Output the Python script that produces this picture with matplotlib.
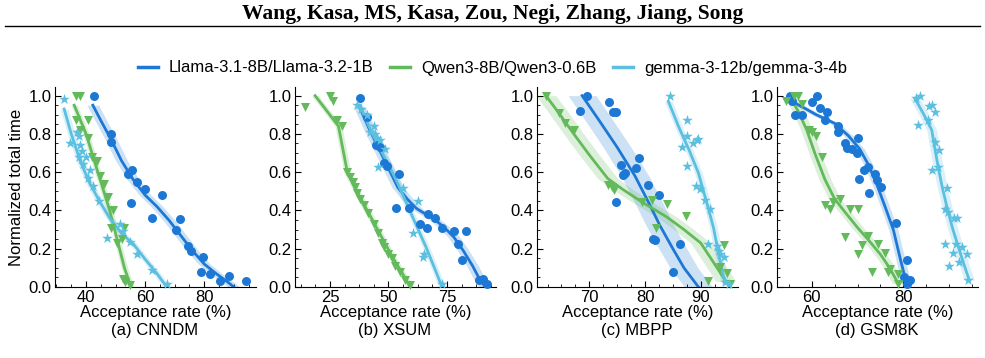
import numpy as np
import matplotlib
matplotlib.use("Agg")
import matplotlib.pyplot as plt
from matplotlib.lines import Line2D
from matplotlib.ticker import AutoMinorLocator, MultipleLocator

header = "Wang, Kasa, MS, Kasa, Zou, Negi, Zhang, Jiang, Song"
models = ["Llama-3.1-8B/Llama-3.2-1B", "Qwen3-8B/Qwen3-0.6B", "gemma-3-12b/gemma-3-4b"]
captions = ["(a) CNNDM", "(b) XSUM", "(c) MBPP", "(d) GSM8K"]
colors = ["#1c78d4", "#63ba5a", "#5bbfe0"]
markers = ["o", "v", "*"]

# ---- (a) CNNDM ----
cnndm_llama_x = [42.7, 48.5, 48.5, 54.1, 55.5, 57.2, 55.1, 59.8, 65.8, 62.3, 71.9, 70.3,
                 74.4, 75.4, 79.7, 78.8, 82.0, 88.5, 85.3, 94.2]
cnndm_llama_y = [1.0, 0.80, 0.76, 0.59, 0.61, 0.55, 0.44, 0.51, 0.48, 0.36, 0.355, 0.30,
                 0.215, 0.19, 0.155, 0.08, 0.07, 0.06, 0.03, 0.03]
cnndm_qwen_x = [36.6, 38.0, 36.6, 40.5, 40.5, 38.0, 42.0, 43.6, 44.7, 46.2, 47.4, 49.2,
                48.5, 52.8, 50.4, 52.2, 52.6, 53.3, 54.9]
cnndm_qwen_y = [1.0, 1.0, 0.875, 0.875, 0.78, 0.82, 0.68, 0.66, 0.58, 0.54, 0.47, 0.40,
                0.31, 0.31, 0.23, 0.25, 0.04, 0.026, 0.01]
cnndm_gemma_x = [32.6, 34.6, 36.8, 37.7, 37.9, 38.8, 37.7, 39.1, 40.0, 40.8, 41.4, 42.5,
                 44.3, 47.2, 51.5, 52.6, 54.9, 57.1, 62.2, 67.3]
cnndm_gemma_y = [0.98, 0.75, 0.81, 0.79, 0.74, 0.71, 0.68, 0.645, 0.68, 0.57, 0.61, 0.53,
                 0.45, 0.255, 0.33, 0.29, 0.235, 0.175, 0.09, 0.014]
cnndm_llama_fit_x = [42.3, 45, 48.5, 52, 56, 60, 64, 68, 72, 76, 80, 84, 88, 90]
cnndm_llama_fit_y = [0.95, 0.87, 0.77, 0.66, 0.56, 0.48, 0.42, 0.35, 0.27, 0.19, 0.12, 0.07, 0.025, 0.0]
cnndm_qwen_fit_x = [36, 40, 44, 48, 51, 53, 55.2]
cnndm_qwen_fit_y = [0.95, 0.80, 0.60, 0.40, 0.22, 0.10, 0.0]
cnndm_gemma_fit_x = [32.6, 35, 38, 41, 44.5, 48, 52, 56, 60, 64, 67.3]
cnndm_gemma_fit_y = [0.93, 0.80, 0.66, 0.55, 0.45, 0.36, 0.28, 0.225, 0.145, 0.07, 0.0]
cnndm_band = [2.0, 1.1, 1.3]

# ---- (b) XSUM ----
xsum_llama_x = [37.9, 40.7, 44.7, 46.4, 48.1, 49.3, 54.4, 53.1, 58.6, 63.6, 66.4, 66.7,
                70.0, 72.7, 77.9, 83.3, 79.6, 81.4, 88.6, 90.3, 92.1]
xsum_llama_y = [0.99, 0.89, 0.74, 0.73, 0.65, 0.63, 0.59, 0.415, 0.415, 0.33, 0.31, 0.38,
                0.36, 0.31, 0.29, 0.29, 0.227, 0.14, 0.035, 0.044, 0.014]
xsum_qwen_x = [14.3, 25.0, 26.1, 27.9, 30.1, 32.4, 33.6, 34.7, 35.7, 36.7, 37.9, 39.6,
               41.4, 43.6, 45.4, 47.1, 47.9, 50.0, 51.4, 52.9, 55.0, 57.1, 59.3]
xsum_qwen_y = [0.94, 1.0, 0.97, 0.875, 0.84, 0.60, 0.575, 0.55, 0.52, 0.49, 0.46, 0.43,
               0.385, 0.33, 0.28, 0.23, 0.21, 0.175, 0.15, 0.11, 0.08, 0.035, 0.01]
xsum_gemma_x = [36.7, 38.1, 40.7, 41.9, 43.6, 44.3, 45.0, 46.4, 48.7, 45.7, 56.4, 62.6,
                60.3, 65.0, 64.7, 72.9]
xsum_gemma_y = [0.95, 0.93, 0.90, 0.81, 0.84, 0.80, 0.78, 0.77, 0.72, 0.625, 0.515, 0.45,
                0.28, 0.175, 0.155, 0.014]
xsum_llama_fit_x = [37.6, 42, 46, 50, 54, 58, 62, 66, 70, 74, 78, 82, 86, 89, 91.4]
xsum_llama_fit_y = [0.94, 0.82, 0.72, 0.62, 0.52, 0.46, 0.41, 0.38, 0.35, 0.31, 0.26, 0.19, 0.11, 0.04, 0.0]
xsum_qwen_fit_x = [18.6, 23, 28.6, 30.5, 32.4, 36, 40, 44, 48, 52, 56, 59.3]
xsum_qwen_fit_y = [1.0, 0.93, 0.84, 0.72, 0.60, 0.51, 0.42, 0.33, 0.24, 0.15, 0.07, 0.0]
xsum_gemma_fit_x = [37.6, 42, 46, 50, 54, 58, 62, 66, 70, 72.9]
xsum_gemma_fit_y = [0.95, 0.83, 0.73, 0.64, 0.54, 0.43, 0.32, 0.21, 0.09, 0.0]
xsum_band = [2.5, 1.5, 1.5]

# ---- (c) MBPP ----
mbpp_llama_x = [69.6, 68.3, 73.6, 74.2, 74.7, 75.7, 76.1, 76.4, 74.8, 78.4, 78.9, 80.6,
                82.5, 81.5, 81.8, 86.3, 85.0]
mbpp_llama_y = [1.0, 0.92, 0.965, 0.915, 0.915, 0.64, 0.585, 0.595, 0.445, 0.62, 0.675,
                0.535, 0.48, 0.25, 0.245, 0.227, 0.08]
mbpp_qwen_x = [62.2, 64.5, 65.7, 67.2, 73.3, 74.4, 74.0, 79.4, 81.2, 83.9, 82.0, 87.3,
               94.1, 93.5, 94.8, 91.4, 95.2]
mbpp_qwen_y = [1.0, 0.91, 0.855, 0.82, 0.535, 0.505, 0.52, 0.445, 0.455, 0.435, 0.31,
               0.37, 0.22, 0.105, 0.073, 0.03, 0.017]
mbpp_gemma_x = [84.4, 87.5, 87.6, 86.6, 88.7, 89.3, 89.6, 87.5, 89.2, 89.8, 90.7, 91.6,
                91.4, 92.9, 93.2, 93.5, 94.1, 94.4, 95.0]
mbpp_gemma_y = [1.0, 0.87, 0.79, 0.73, 0.75, 0.77, 0.775, 0.63, 0.53, 0.51, 0.455, 0.41,
                0.227, 0.215, 0.19, 0.175, 0.157, 0.026, 0.014]
mbpp_llama_fit_x = [68.7, 72, 75, 78.2, 80.5, 82.7, 85, 87, 89.6]
mbpp_llama_fit_y = [1.0, 0.86, 0.73, 0.58, 0.45, 0.32, 0.20, 0.10, 0.0]
mbpp_qwen_fit_x = [62.2, 64.5, 67.2, 70, 73.3, 76, 79.4, 83.9, 87, 90, 92.5, 94.5]
mbpp_qwen_fit_y = [1.0, 0.91, 0.80, 0.69, 0.567, 0.51, 0.445, 0.366, 0.30, 0.23, 0.12, 0.03]
mbpp_gemma_fit_x = [84.2, 86, 88, 89.6, 91, 92.3, 93.3, 94.4]
mbpp_gemma_fit_y = [0.97, 0.84, 0.71, 0.595, 0.45, 0.31, 0.16, 0.017]
mbpp_band = [2.5, 1.8, 0.7]

# ---- (d) GSM8K ----
gsm8k_llama_x = [55.3, 55.6, 56.4, 57.8, 60.1, 61.1, 61.8, 63.3, 62.9, 65.8, 65.8, 67.3,
                 67.6, 68.7, 70.0, 69.8, 71.3, 72.2, 70.3, 72.6, 73.8, 74.2, 75.1, 78.4,
                 80.9, 80.2, 81.5, 80.7]
gsm8k_llama_y = [1.0, 0.97, 0.90, 0.90, 0.965, 1.0, 0.935, 0.915, 0.875, 0.84, 0.81, 0.75,
                 0.725, 0.72, 0.78, 0.70, 0.61, 0.625, 0.565, 0.49, 0.59, 0.56, 0.525, 0.335,
                 0.14, 0.052, 0.035, 0.014]
gsm8k_qwen_x = [54.3, 56.2, 56.9, 57.8, 59.4, 60.1, 61.0, 62.3, 62.9, 63.9, 64.7, 66.2,
                68.4, 70.0, 67.3, 70.9, 72.2, 70.0, 74.5, 75.9, 73.2, 76.6, 77.1, 78.8, 78.8]
gsm8k_qwen_y = [0.97, 1.0, 1.0, 0.956, 0.82, 0.81, 0.79, 0.68, 0.43, 0.41, 0.445, 0.46,
                0.41, 0.41, 0.26, 0.22, 0.265, 0.175, 0.223, 0.18, 0.08, 0.08, 0.095, 0.07, 0.017]
gsm8k_gemma_x = [82.8, 83.6, 83.1, 85.5, 86.2, 86.9, 85.3, 86.9, 87.8, 86.2, 87.6, 89.6,
                 89.2, 89.8, 91.1, 91.8, 89.1, 90.9, 90.0, 91.5, 92.1, 92.7, 93.9, 94.2]
gsm8k_gemma_y = [0.99, 1.0, 0.846, 0.946, 0.95, 0.913, 0.873, 0.757, 0.716, 0.61, 0.626,
                 0.515, 0.41, 0.393, 0.363, 0.363, 0.223, 0.18, 0.108, 0.227, 0.13, 0.21,
                 0.171, 0.035]
gsm8k_llama_fit_x = [55.6, 58, 61, 65, 68, 70.5, 72.4, 74.3, 76, 77.8, 79.3, 80.7]
gsm8k_llama_fit_y = [0.97, 0.94, 0.90, 0.855, 0.79, 0.72, 0.637, 0.53, 0.42, 0.30, 0.15, 0.017]
gsm8k_qwen_fit_x = [55.3, 57, 58.9, 60.8, 62.9, 65, 67.3, 70, 72.4, 75, 77, 78.9]
gsm8k_qwen_fit_y = [0.99, 0.92, 0.82, 0.69, 0.56, 0.46, 0.39, 0.31, 0.245, 0.17, 0.10, 0.017]
gsm8k_gemma_fit_x = [82.5, 84.5, 86.2, 86.9, 87.6, 88.5, 89.5, 90.7, 92, 93.2, 94.4]
gsm8k_gemma_fit_y = [0.986, 0.90, 0.82, 0.72, 0.628, 0.52, 0.42, 0.31, 0.21, 0.12, 0.035]
gsm8k_band = [1.0, 1.3, 1.1]

panels = [
    ([(cnndm_llama_x, cnndm_llama_y), (cnndm_qwen_x, cnndm_qwen_y), (cnndm_gemma_x, cnndm_gemma_y)],
     [(cnndm_llama_fit_x, cnndm_llama_fit_y), (cnndm_qwen_fit_x, cnndm_qwen_fit_y),
      (cnndm_gemma_fit_x, cnndm_gemma_fit_y)], cnndm_band),
    ([(xsum_llama_x, xsum_llama_y), (xsum_qwen_x, xsum_qwen_y), (xsum_gemma_x, xsum_gemma_y)],
     [(xsum_llama_fit_x, xsum_llama_fit_y), (xsum_qwen_fit_x, xsum_qwen_fit_y),
      (xsum_gemma_fit_x, xsum_gemma_fit_y)], xsum_band),
    ([(mbpp_llama_x, mbpp_llama_y), (mbpp_qwen_x, mbpp_qwen_y), (mbpp_gemma_x, mbpp_gemma_y)],
     [(mbpp_llama_fit_x, mbpp_llama_fit_y), (mbpp_qwen_fit_x, mbpp_qwen_fit_y),
      (mbpp_gemma_fit_x, mbpp_gemma_fit_y)], mbpp_band),
    ([(gsm8k_llama_x, gsm8k_llama_y), (gsm8k_qwen_x, gsm8k_qwen_y), (gsm8k_gemma_x, gsm8k_gemma_y)],
     [(gsm8k_llama_fit_x, gsm8k_llama_fit_y), (gsm8k_qwen_fit_x, gsm8k_qwen_fit_y),
      (gsm8k_gemma_fit_x, gsm8k_gemma_fit_y)], gsm8k_band),
]

xlims = [(29.5, 97.5), (10, 96), (60.6, 96.7), (52.4, 96.3)]
xmajor = [20, 25, 10, 20]
lefts = [55, 295, 537, 777]

plt.rcParams.update({
    "font.family": ["Liberation Sans", "DejaVu Sans"],
    "font.size": 12,
    "xtick.direction": "in",
    "ytick.direction": "in",
})

W, H = 985, 358
fig = plt.figure(figsize=(W / 100, H / 100), dpi=100)

fig.text(0.5, 1 - 14 / H, header, ha="center", va="center",
         family=["Liberation Serif", "DejaVu Serif"], weight="bold", fontsize=15.5)
fig.add_artist(Line2D([5 / W, 980 / W], [1 - 26 / H] * 2, color="k", lw=1.0))

for i, (pts, fits, band) in enumerate(panels):
    ax = fig.add_axes([lefts[i] / W, (H - 287) / H, 201 / W, 200 / H])
    for k in range(3):
        fx, fy = np.array(fits[k][0]), np.array(fits[k][1])
        ax.fill_betweenx(fy, fx - band[k], fx + band[k], color=colors[k], alpha=0.22, lw=0)
        ax.plot(fx, fy, color=colors[k], lw=2, label=models[k])
    for k in range(3):
        ms = 65 if markers[k] == "*" else 42
        ax.scatter(pts[k][0], pts[k][1], s=ms, marker=markers[k], color=colors[k],
                   lw=0, zorder=3, clip_on=False)
    ax.set_xlim(*xlims[i])
    ax.set_ylim(0, 1.045)
    ax.xaxis.set_major_locator(MultipleLocator(xmajor[i]))
    ax.yaxis.set_major_locator(MultipleLocator(0.2))
    ax.xaxis.set_minor_locator(AutoMinorLocator(4))
    ax.yaxis.set_minor_locator(AutoMinorLocator(4))
    ax.yaxis.set_major_formatter(plt.FormatStrFormatter("%.1f"))
    ax.tick_params(which="major", length=4, width=0.8, pad=2.5)
    ax.tick_params(which="minor", length=2, width=0.6)
    ax.spines["top"].set_visible(False)
    ax.spines["right"].set_visible(False)
    ax.set_xlabel("Acceptance rate (%)", labelpad=0)
    if i == 0:
        ax.set_ylabel("Normalized total time", labelpad=3)
    fig.text((lefts[i] + 100) / W, 1 - 330 / H, captions[i], ha="center", va="center")

handles = [Line2D([], [], color=c, lw=2.5) for c in colors]
fig.legend(handles, models, loc="center", bbox_to_anchor=(0.5, 1 - 68 / H), ncol=3,
           frameon=False, handlelength=1.2, handletextpad=0.65, columnspacing=1.0)

fig.savefig("out.png", dpi=100)
